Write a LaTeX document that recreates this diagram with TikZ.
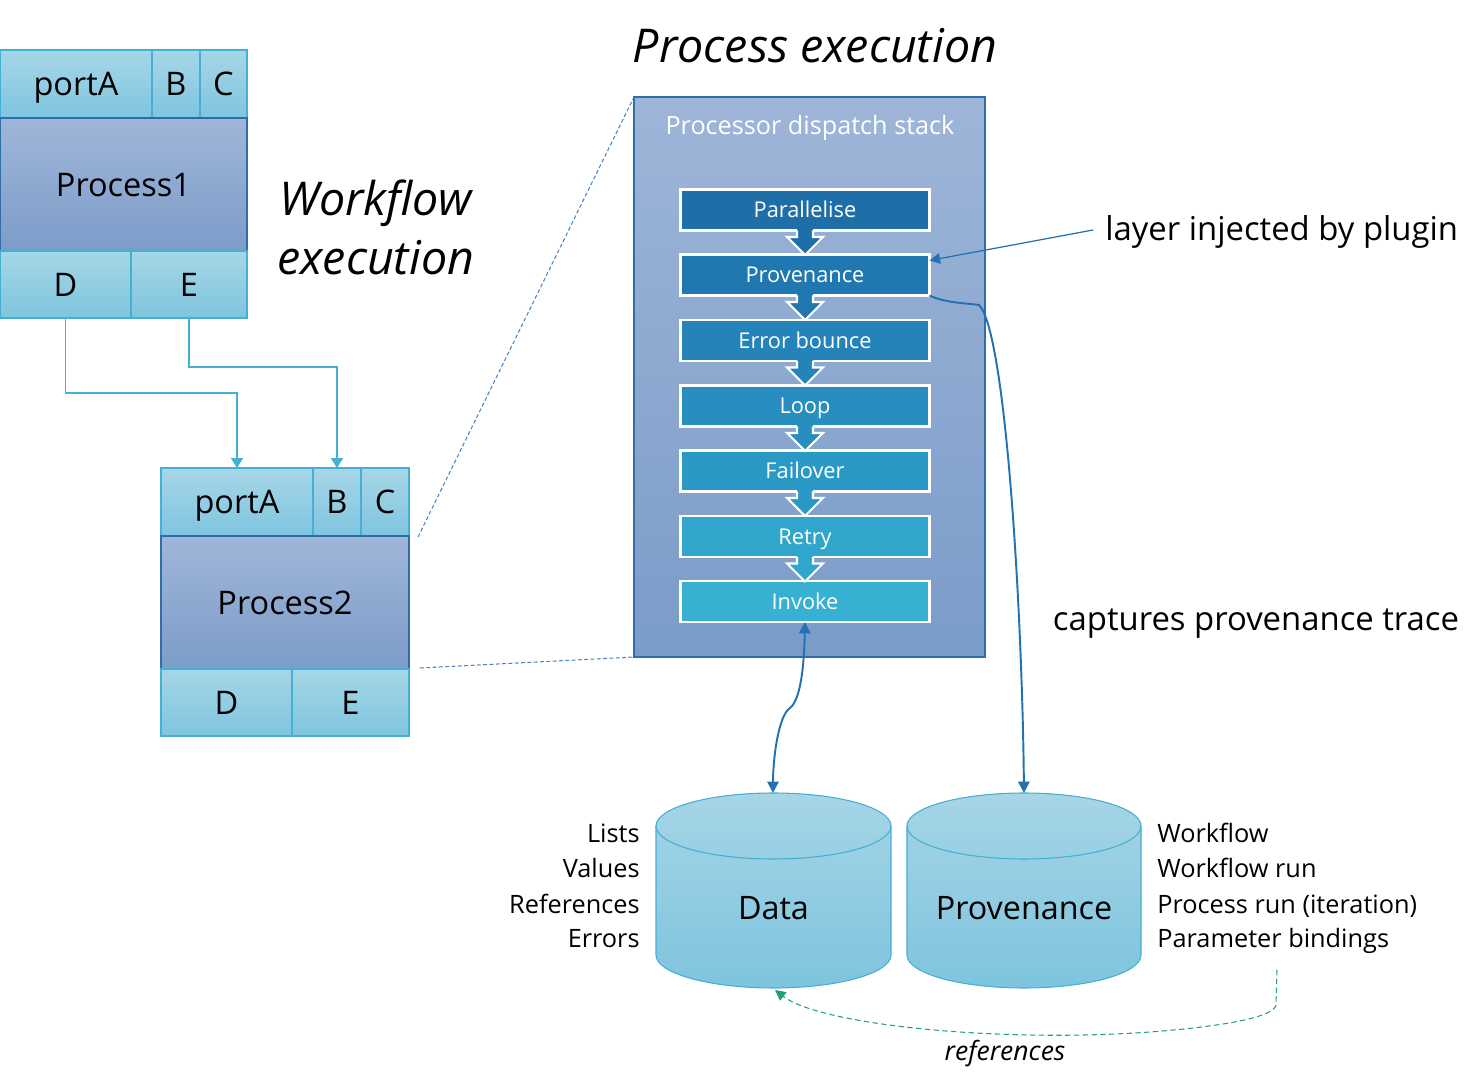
\documentclass[tikz,border=0pt]{standalone}
\usepackage{fontspec}
\setmainfont{Open Sans}
\usetikzlibrary{arrows.meta,calc}

% one drawing unit = one pixel of the layout
\newcommand\pxu{0.02cm}

\definecolor{portTop}{HTML}{A7D6E7}
\definecolor{portBot}{HTML}{7EC5DF}
\definecolor{portLine}{HTML}{44B0D3}
\definecolor{procTop}{HTML}{A0B6D9}
\definecolor{procBot}{HTML}{7C9CC8}
\definecolor{procLine}{HTML}{2F6EAA}
\definecolor{stackTop}{HTML}{9EB5D8}
\definecolor{stackBot}{HTML}{7A9CC8}
\definecolor{cPar}{HTML}{1E6EA8}
\definecolor{cProv}{HTML}{2178B1}
\definecolor{cErr}{HTML}{2483B8}
\definecolor{cLoop}{HTML}{278EBF}
\definecolor{cFail}{HTML}{2B99C6}
\definecolor{cRetry}{HTML}{31A6CD}
\definecolor{cInv}{HTML}{38B0D1}
\definecolor{linkBlue}{HTML}{2371B0}
\definecolor{zoomBlue}{HTML}{4A86C5}
\definecolor{refGreen}{HTML}{1FA07A}
\definecolor{cylTop}{HTML}{A6D5E6}
\definecolor{cylBot}{HTML}{7EC4DE}
\definecolor{cylLine}{HTML}{44AFD2}

\tikzset{bluetip/.tip={Triangle[length=6.5pt, width=6.5pt]}}

\begin{document}
\begin{tikzpicture}[x=0.02cm, y=-0.02cm,
  portbox/.style={draw=portLine, line width=0.6pt, top color=portTop, bottom color=portBot,
    inner sep=0pt, outer sep=0pt, font=\fontsize{18.5}{22}\selectfont,
    text height=13.2pt, text depth=0pt},
  procbox/.style={portbox, draw=procLine, top color=procTop, bottom color=procBot},
  stackbox/.style={draw=procLine, line width=0.7pt, top color=stackTop, bottom color=stackBot,
    inner sep=0pt, outer sep=0pt},
  layer/.style={draw=white, line width=1.7pt, text=white, inner sep=0pt, outer sep=0pt,
    minimum width=249*\pxu, minimum height=41*\pxu,
    font=\fontsize{12.4}{14}\selectfont, text height=8.85pt, text depth=0pt},
  portlink/.style={draw=portLine, line width=0.7pt, -{Triangle[length=5.6pt, width=6.8pt]}},
  bluelink/.style={draw=linkBlue, line width=1.1pt},
  zoomline/.style={draw=zoomBlue, line width=0.6pt, dash pattern=on 2.2pt off 1.4pt},
  refline/.style={draw=refGreen, line width=0.6pt, dash pattern=on 3pt off 2pt},
  cyl/.style={draw=cylLine, line width=0.6pt, top color=cylTop, bottom color=cylBot},
  dblabel/.style={inner sep=0pt, font=\fontsize{18.4}{22}\selectfont, text height=13.1pt, text depth=0pt},
  listtext/.style={inner sep=0pt, font=\fontsize{14.4}{17}\selectfont},
  bigitalic/.style={inner sep=0pt, font=\fontsize{26.5}{31}\selectfont\itshape},
  note/.style={inner sep=0pt, font=\fontsize{18.7}{22}\selectfont}
]
\useasboundingbox (0,0) rectangle (1482,1087);

% ---------- Process1 ----------
\node[portbox, minimum width=152*\pxu, minimum height=68*\pxu] (p1a) at (76,84) {portA};
\node[portbox, minimum width=48*\pxu, minimum height=68*\pxu] (p1b) at (176,84) {B};
\node[portbox, minimum width=47*\pxu, minimum height=68*\pxu] (p1c) at (223.5,84) {C};
\node[procbox, minimum width=247*\pxu, minimum height=133*\pxu] (p1) at (123.5,184.5) {Process1};
\node[portbox, minimum width=131*\pxu, minimum height=67*\pxu] (p1d) at (65.5,284.5) {D};
\node[portbox, minimum width=116*\pxu, minimum height=67*\pxu] (p1e) at (189,284.5) {E};

% ---------- Process2 ----------
\node[portbox, minimum width=152*\pxu, minimum height=68*\pxu] (p2a) at (237,502) {portA};
\node[portbox, minimum width=48*\pxu, minimum height=68*\pxu] (p2b) at (337,502) {B};
\node[portbox, minimum width=48*\pxu, minimum height=68*\pxu] (p2c) at (385,502) {C};
\node[procbox, minimum width=248*\pxu, minimum height=133*\pxu] (p2) at (285,602.5) {Process2};
\node[portbox, minimum width=131*\pxu, minimum height=67*\pxu] (p2d) at (226.5,702.5) {D};
\node[portbox, minimum width=117*\pxu, minimum height=67*\pxu] (p2e) at (350.5,702.5) {E};

% port links
\draw[portlink] (p1d.south) -- ++(0,75) -| (p2a.north);
\draw[portlink] (p1e.south) -- ++(0,49) -| (p2b.north);

% workflow label
\node[bigitalic, anchor=base west] (wf1) at (279,216) {Workflow};
\node[bigitalic, anchor=base west] (wf2) at (277,275) {execution};

% ---------- dispatch stack ----------
\node[bigitalic, anchor=base] (pextitle) at (815,63) {Process execution};
\node[stackbox, minimum width=351*\pxu, minimum height=560*\pxu] (stack) at (809.5,377) {};
\node[inner sep=0pt, text=white, font=\fontsize{14.35}{17}\selectfont, anchor=base] (stacktitle) at (810,135) {Processor dispatch stack};

\foreach \nm/\txt/\col/\yy in {lpar/Parallelise/cPar/210, prov/Provenance/cProv/275,
    lerr/Error bounce/cErr/340.5, lloop/Loop/cLoop/406, lfail/Failover/cFail/471,
    lretry/Retry/cRetry/536.5, inv/Invoke/cInv/601.5}
  \node[layer, fill=\col] (\nm) at (805,\yy) {\txt};

% hollow-outlined arrows between the layers
\foreach \yy/\col in {210/cPar, 275/cProv, 340.5/cErr, 406/cLoop, 471/cFail, 536.5/cRetry} {
  \fill[\col] (797,\yy+18) -- (797,\yy+27) -- (787,\yy+27) -- (805,\yy+45)
    -- (823,\yy+27) -- (813,\yy+27) -- (813,\yy+18) -- cycle;
  \draw[white, line width=1.2pt, line join=miter] (797,\yy+20.5) -- (797,\yy+27) -- (787,\yy+27)
    -- (805,\yy+45) -- (823,\yy+27) -- (813,\yy+27) -- (813,\yy+20.5);
}

% zoom guides from Process2 to the stack
\draw[zoomline] ($(p2.north east)+(9,1)$) -- (stack.north west);
\draw[zoomline] ($(p2.south east)+(11,-1)$) -- (stack.south west);

% ---------- stores ----------
\foreach \l/\r in {656/891, 907/1141} {
  \path[cyl] (\l,826) -- (\l,955)
    arc[start angle=180, end angle=360, x radius={(\r-\l)/2*\pxu}, y radius=33*\pxu]
    -- (\r,826)
    arc[start angle=0, end angle=180, x radius={(\r-\l)/2*\pxu}, y radius=33*\pxu] -- cycle;
  \draw[draw=cylLine, line width=0.6pt] (\l,826)
    arc[start angle=180, end angle=360, x radius={(\r-\l)/2*\pxu}, y radius=33*\pxu];
}
\node[dblabel] (data) at (773.5,908) {Data};
\node[dblabel] (provdb) at (1024,908) {Provenance};
\coordinate (datatop) at (773,793);
\coordinate (databot) at (775,990);
\coordinate (provdbtop) at (1024,793);

\foreach \t [count=\i from 0] in {Lists, Values, References, Errors}
  \node[listtext, anchor=base east] (dl\i) at (640,843+35*\i) {\t};
\foreach \t [count=\i from 0] in {Workflow, Workflow run, Process run (iteration), Parameter bindings}
  \node[listtext, anchor=base west] (pl\i) at (1157,843+35*\i) {\t};

% ---------- connectors ----------
\draw[bluelink, {bluetip}-{bluetip}] (inv.south) .. controls (804,670) and (800,700) .. (790,708)
  .. controls (778,716) and (773,760) .. (datatop);
\draw[bluelink, -{bluetip}] (prov.south east) .. controls (945,303) and (965,303) .. (979,305)
  .. controls (1005,330) and (1022,600) .. (provdbtop);

\coordinate (injsrc) at (1093,230);
\draw[draw=linkBlue, line width=0.7pt, -{Triangle[length=6pt, width=6pt]}] (injsrc) -- ($(prov.north east)+(0,6)$);
\node[note, anchor=base west] (injtext) at (1105,241) {layer injected by plugin};
\node[note, anchor=base] (captext) at (1256,631) {captures provenance trace};

\coordinate (refsrc) at (1277,970);
\draw[refline, -{Triangle[length=6pt, width=6pt]}] (refsrc) -- (1276,1005)
  .. controls (1274,1015) and (1240,1025) .. (1150,1032)
  .. controls (1000,1043) and (820,1025) .. (databot);
\node[inner sep=0pt, font=\fontsize{15.1}{18}\selectfont\itshape, anchor=base] (reftext) at (1005,1060) {references};

\end{tikzpicture}
\end{document}
